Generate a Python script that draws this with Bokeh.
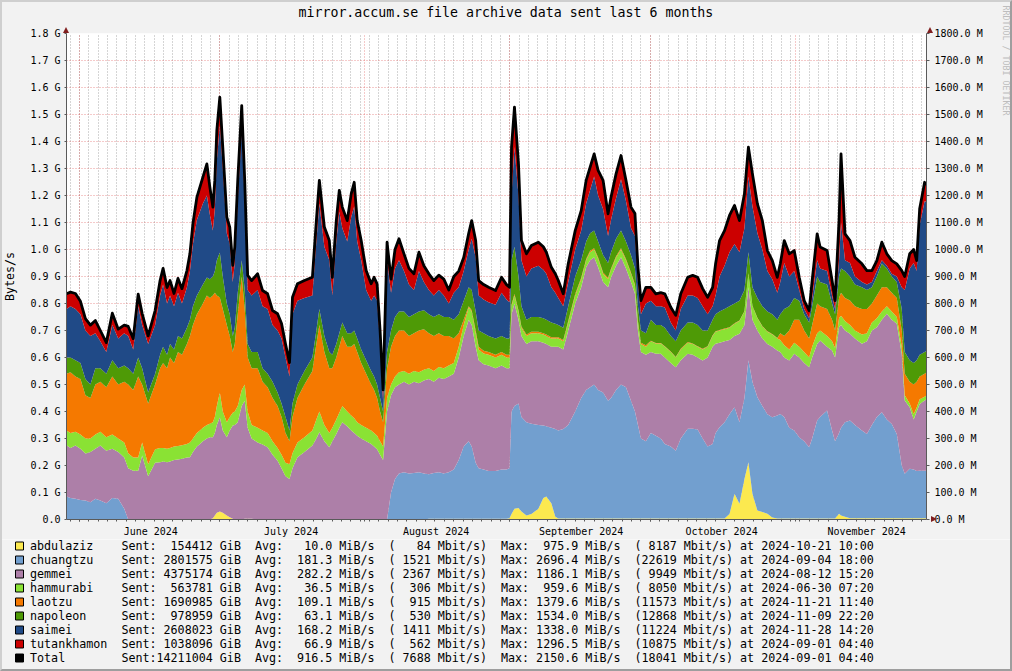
from datetime import datetime, timedelta
from bokeh.plotting import figure
from bokeh.models import (ColumnDataSource, Range1d, FixedTicker, LinearAxis, Title, Plot)
from bokeh.layouts import column
from bokeh.core.properties import value
from bokeh.embed import file_html
from bokeh.resources import INLINE

# ---------------------------------------------------------------- data
START = datetime(2024, 5, 29, 6, 0)      # left edge of the graph
SPAN_DAYS = 183.8                          # "last 6 months"

# sample times, days after START
day = [
    0.0, 0.85, 1.91, 2.98, 4.04, 5.11, 6.17, 7.23, 8.51, 9.79, 11.06, 12.34, 13.19, 14.26, 15.32, 16.17, 17.45,
    18.94, 20.0, 20.64, 21.49, 22.13, 22.98, 23.83, 24.68, 25.74, 26.38, 27.02, 27.87, 28.51, 29.15, 30.0, 30.64,
    31.28, 31.70, 32.13, 32.77, 33.40, 34.26, 34.89, 35.53, 35.96, 36.60, 37.45, 38.09, 38.72, 39.57, 40.85,
    41.91, 42.98, 44.04, 45.11, 45.96, 46.81, 47.66, 48.30, 49.36, 50.85, 52.55, 53.40, 54.04, 55.11, 56.17, 56.81,
    57.66, 58.30, 58.94, 60.0, 60.85, 61.49, 62.13, 62.98, 64.04, 65.11, 65.74, 66.38, 67.02, 67.66, 68.51,
    69.36, 70.21, 71.06, 72.13, 73.19, 74.26, 75.32, 76.38, 77.45, 78.51, 79.57, 80.64, 81.70, 82.77, 83.83, 84.89,
    85.96, 86.60, 87.45, 88.09, 89.15, 90.21, 91.70, 92.98, 94.04, 94.68,
    95.11, 95.74, 96.60, 97.23, 98.30, 99.36, 100.85, 101.91, 102.55, 103.62, 104.47, 105.11, 106.17, 107.23, 108.72,
    110.0, 111.06, 111.91, 112.77, 113.62, 114.68, 115.74, 116.38, 117.45, 118.51, 119.57, 120.64, 121.49, 122.13,
    122.77, 123.83,
    124.89, 125.96, 127.02, 127.87, 129.15, 130.21, 131.28, 132.77, 133.83, 134.89, 135.96, 137.02, 138.09, 138.72,
    139.57, 140.64, 141.70, 142.77, 143.83, 144.89, 145.74, 146.60, 147.66, 148.72, 149.79, 150.85, 151.91, 152.55,
    153.40, 154.47, 155.53,
    156.60, 157.66, 158.72, 159.36, 160.43, 161.06, 162.55, 163.62, 164.26, 165.11, 165.53, 166.38, 167.45, 168.51,
    170.0, 171.06, 172.13, 173.19, 174.26, 175.32, 176.38, 177.45, 178.51, 179.15, 180.21, 181.06, 181.70, 182.34,
    183.40, 183.83,
]

# bytes/s per host, in MiB/s (stacked bottom to top)
abdulaziz = [
    0, 0, 0, 0, 0, 0, 0, 0, 0, 0, 0, 0, 0, 0, 0, 0, 0,
    0, 0, 0, 0, 0, 0, 0, 0, 0, 0, 0, 0, 0, 0, 0, 0, 5, 15, 25, 30, 25, 15, 8, 3, 0, 0, 0, 3, 3, 3, 0,
    0, 0, 0, 0, 0, 0, 0, 0, 0, 0, 0, 0, 0, 0, 0, 0, 0, 0, 0, 0, 0, 0, 0, 0, 0, 0, 0, 0, 0, 0, 0,
    0, 0, 0, 0, 0, 0, 0, 0, 3, 3, 3, 3, 3, 3, 3, 3, 3, 3, 3, 3, 3, 3, 3, 3, 3, 5,
    20, 40, 43, 30, 15, 20, 40, 80, 85, 60, 10, 4, 4, 4, 4, 4, 4, 4, 4, 4, 4, 4, 4, 4, 4, 4, 4, 4, 4, 4, 4,
    4, 4, 4, 4, 4, 4, 4, 4, 4, 4, 4, 4, 4, 4, 4, 4, 20, 95, 58, 150, 212, 95, 33, 28, 21, 7, 4, 4, 4, 4, 4,
    4, 4, 4, 4, 4, 4, 4, 4, 4, 21, 15, 10, 5, 5, 5, 5, 5, 5, 5, 5, 5, 5, 5, 5, 5, 5, 5, 5, 5, 5,
]
chuangtzu = [
    85, 80, 77, 72, 70, 64, 77, 70, 60, 80, 77, 40, 0, 0, 0, 0, 0,
    0, 0, 0, 0, 0, 0, 0, 0, 0, 0, 0, 0, 0, 0, 0, 0, 0, 0, 0, 0, 0, 0, 0, 0, 0, 0, 0, 0, 0, 0, 0,
    0, 0, 0, 0, 0, 0, 0, 0, 0, 0, 0, 0, 0, 0, 0, 0, 0, 0, 0, 0, 0, 0, 0, 0, 0, 0, 0, 0, 0, 0, 0,
    100, 150, 170, 175, 170, 172, 175, 170, 165, 169, 172, 167, 172, 182, 217, 267, 287, 267, 207, 187, 182, 177,
    177, 182, 182, 185,
    380, 380, 387, 350, 345, 335, 310, 268, 260, 280, 325, 326, 331, 346, 396, 446, 476, 486, 496, 476, 466, 436,
    446, 476, 496, 486, 436, 396, 346, 296, 286,
    316, 306, 296, 276, 266, 251, 296, 332, 332, 329, 296, 266, 276, 316, 338, 356, 370, 321, 302, 300, 378, 415,
    420, 392, 369, 372, 381, 387, 376, 336, 326,
    301, 286, 264, 296, 363, 376, 400, 326, 286, 299, 325, 350, 362, 345, 325, 312, 345, 375, 392, 365, 349, 312,
    195, 164, 183, 180, 175, 176, 176, 176,
]
gemmei = [
    190, 185, 197, 190, 174, 186, 185, 204, 195, 182, 173, 190, 190, 181, 181, 237, 160,
    210, 212, 215, 212, 215, 220, 222, 225, 230, 231, 250, 270, 280, 290, 300, 305, 300, 305, 325, 349, 305, 290,
    322, 345, 350, 360, 420, 437, 337, 297, 285,
    278, 268, 240, 218, 190, 160, 150, 190, 231, 250, 274, 300, 323, 290, 268, 290, 317, 340, 360, 345, 330, 320,
    310, 300, 290, 280, 270, 260, 240, 220, 400,
    360, 340, 330, 335, 330, 338, 330, 345, 352, 338, 350, 350, 355, 355, 380, 410, 450, 450, 430, 400, 390, 390,
    380, 385, 375, 370,
    360, 380, 310, 300, 290, 305, 310, 307, 305, 300, 305, 310, 295, 350, 400, 410, 454, 470, 471, 454, 410, 420,
    447, 460, 471, 440, 440, 436, 350, 320, 320,
    300, 304, 314, 320, 310, 309, 290, 278, 274, 267, 289, 330, 360, 331, 313, 300, 275, 264, 328, 270, 270, 230,
    247, 250, 260, 261, 241, 229, 220, 249, 284,
    295, 290, 296, 300, 283, 283, 236, 296, 310, 392, 380, 340, 321, 320, 321, 343, 350, 332, 343, 392, 386, 408,
    414, 272, 228, 185, 220, 247, 260, 264,
]
hammurabi = [
    55, 55, 51, 53, 56, 50, 53, 51, 50, 53, 50, 55, 55, 49, 49, 48, 45,
    50, 53, 50, 50, 50, 50, 50, 50, 50, 54, 50, 50, 50, 50, 50, 50, 55, 60, 70, 91, 70, 55, 50, 47, 50, 60, 60,
    60, 60, 50, 55,
    52, 52, 50, 47, 50, 50, 55, 55, 54, 55, 56, 70, 77, 60, 52, 50, 53, 55, 60, 55, 55, 55, 50, 50, 50, 50, 50,
    50, 50, 50, 50,
    40, 40, 45, 40, 40, 40, 40, 40, 40, 40, 40, 40, 40, 40, 40, 40, 45, 50, 50, 40, 40, 40, 40, 40, 40, 40,
    30, 30, 30, 30, 30, 30, 30, 30, 30, 30, 30, 30, 30, 30, 30, 30, 26, 30, 29, 31, 30, 30, 28, 30, 29, 30, 30,
    30, 30, 30, 30,
    40, 38, 38, 40, 40, 36, 40, 41, 40, 40, 41, 40, 40, 44, 45, 45, 45, 45, 47, 50, 50, 50, 45, 45, 45, 45, 44,
    45, 45, 41, 41,
    40, 40, 36, 40, 40, 37, 40, 34, 35, 33, 35, 35, 32, 30, 34, 30, 30, 33, 30, 28, 30, 25, 26, 19, 14, 20, 15,
    17, 14, 15,
]
laotzu = [
    210, 225, 205, 205, 160, 150, 185, 185, 185, 215, 200, 225, 255, 250, 300, 215, 225,
    240, 295, 315, 298, 335, 310, 348, 335, 370, 395, 420, 440, 450, 460, 480, 465, 470, 460, 410, 352, 380, 360,
    300, 225, 250, 340, 420, 280, 200, 210, 220,
    180, 170, 160, 155, 140, 110, 85, 135, 165, 195, 220, 280, 320, 270, 240, 220, 230, 245, 260, 240, 255, 275,
    260, 230, 200, 170, 160, 140, 110, 90, 110,
    140, 150, 155, 150, 140, 140, 155, 150, 130, 130, 125, 120, 110, 90, 50, 20, 5, 5, 10, 10, 10, 10, 10, 10,
    10, 10,
    5, 5, 5, 5, 5, 5, 5, 5, 5, 5, 5, 5, 5, 5, 5, 5, 5, 5, 5, 5, 5, 5, 5, 5, 5, 5, 5, 4, 5, 5, 5,
    2, 2, 2, 2, 2, 2, 2, 2, 2, 2, 2, 2, 2, 2, 2, 2, 2, 2, 2, 2, 2, 2, 2, 2, 2, 2, 2, 25, 35, 70, 85,
    100, 80, 70, 80, 110, 90, 100, 80, 65, 75, 85, 85, 91, 90, 95, 90, 70, 85, 90, 70, 70, 70, 60, 80, 80, 110,
    95, 85, 85, 85,
]
napoleon = [
    60, 55, 60, 60, 60, 50, 60, 50, 50, 60, 60, 60, 60, 60, 70, 60, 40,
    40, 50, 60, 50, 50, 50, 60, 60, 60, 60, 70, 70, 70, 70, 66, 70, 70, 80, 130, 167, 120, 80, 80, 60, 60, 80,
    60, 70, 50, 60, 60,
    50, 50, 60, 50, 50, 60, 40, 50, 50, 50, 50, 50, 60, 60, 60, 50, 50, 50, 50, 50, 50, 50, 50, 50, 50, 50, 50,
    50, 50, 40, 60,
    60, 70, 70, 70, 70, 70, 70, 70, 70, 70, 70, 70, 70, 70, 70, 70, 70, 75, 70, 60, 65, 60, 60, 60, 60, 60,
    165, 175, 125, 75, 55, 55, 55, 55, 55, 55, 50, 45, 45, 55, 65, 65, 65, 65, 65, 60, 65, 55, 60, 65, 65, 65,
    65, 60, 55, 45, 45,
    78, 66, 66, 68, 58, 58, 68, 73, 78, 78, 68, 58, 58, 63, 68, 73, 78, 73, 73, 78, 78, 68, 73, 73, 73, 73, 68,
    70, 100, 90, 80,
    70, 60, 60, 70, 100, 90, 90, 60, 60, 80, 90, 100, 89, 80, 80, 70, 60, 70, 88, 70, 60, 60, 80, 80, 80, 80, 80,
    80, 80, 80,
]
saimei = [
    180, 190, 190, 180, 180, 180, 130, 100, 80, 130, 110, 120, 120, 90, 190, 160, 180,
    180, 220, 230, 190, 180, 160, 160, 130, 150, 180, 230, 280, 290, 300, 304, 240, 170, 230, 370, 471, 400, 260,
    260, 200, 240, 340, 480, 330, 200, 210, 230,
    230, 240, 210, 230, 240, 220, 200, 330, 310, 270, 230, 330, 390, 330, 340, 220, 380, 450, 350, 340, 430, 460,
    360, 330, 260, 260, 300, 310, 200, 40, 340,
    140, 180, 190, 150, 120, 90, 150, 105, 90, 80, 90, 80, 50, 100, 100, 110, 140, 190, 200, 130, 125, 125, 125,
    160, 145, 135,
    240, 370, 300, 170, 160, 180, 190, 180, 170, 130, 115, 100, 80, 90, 100, 110, 140, 160, 200, 170, 170, 100,
    120, 150, 190, 150, 100, 120, 90, 60, 110,
    70, 70, 70, 75, 50, 40, 80, 100, 100, 100, 90, 60, 50, 70, 130, 160, 200, 220, 180, 230, 280, 300, 240, 210,
    150, 130, 100, 120, 170, 110, 100,
    40, 20, 15, 30, 60, 50, 50, 30, 20, 60, 170, 40, 50, 30, 20, 20, 20, 20, 12, 10, 10, 20, 80, 230, 340, 370,
    330, 480, 560, 550,
]
tutankhamon = [
    56, 52, 57, 48, 44, 40, 47, 40, 35, 44, 35, 30, 35, 40, 45, 43, 30,
    54, 55, 60, 59, 55, 47, 53, 55, 62, 65, 76, 84, 91, 98, 117, 101, 87, 106, 111, 104, 79, 60, 63, 61, 59, 76,
    93, 76, 54, 55, 60,
    58, 56, 54, 62, 56, 50, 51, 63, 63, 65, 67, 77, 86, 73, 73, 67, 77, 79, 77, 77, 86, 89, 77, 73, 72, 63, 67,
    63, 50, 40, 67,
    50, 70, 80, 64, 60, 60, 70, 60, 60, 55, 55, 60, 50, 60, 60, 50, 60, 67, 63, 55, 55, 55, 53, 57, 55, 55,
    179, 147, 117, 73, 84, 85, 87, 85, 80, 74, 70, 65, 46, 67, 70, 74, 86, 85, 84, 93, 106, 82, 84, 90, 88, 76,
    77, 83, 54, 51, 60,
    50, 46, 50, 51, 56, 56, 56, 67, 74, 77, 65, 63, 70, 117, 133, 130, 136, 143, 117, 126, 109, 120, 109, 107,
    76, 69, 57, 67, 83, 84, 76,
    47, 31, 29, 65, 98, 79, 76, 55, 31, 147, 254, 98, 83, 71, 67, 52, 42, 39, 67, 44, 49, 47, 62, 50, 54, 50,
    39, 61, 69, 65,
]

series_names = ["abdulaziz", "chuangtzu", "gemmei", "hammurabi", "laotzu", "napoleon", "saimei", "tutankhamon"]
series_values = [abdulaziz, chuangtzu, gemmei, hammurabi, laotzu, napoleon, saimei, tutankhamon]
series_colors = ["#FCE94F", "#729FCF", "#AD7FA8", "#8AE234", "#F57900", "#4E9A06", "#204A87", "#CC0000"]

# legend statistics
legend_names = series_names + ["Total"]
legend_colors = series_colors + ["#000000"]
sent_gib = [154412, 2801575, 4375174, 563781, 1690985, 978959, 2608023, 1038096, 14211004]
avg_mib = [10.0, 181.3, 282.2, 36.5, 109.1, 63.1, 168.2, 66.9, 916.5]
avg_mbit = [84, 1521, 2367, 306, 915, 530, 1411, 562, 7688]
max_mib = [975.9, 2696.4, 1186.1, 959.6, 1379.6, 1534.0, 1338.0, 1296.5, 2150.6]
max_mbit = [8187, 22619, 9949, 8050, 11573, 12868, 11224, 10875, 18041]
max_at = ["2024-10-21 10:00", "2024-09-04 18:00", "2024-08-12 15:20", "2024-06-30 07:20", "2024-11-21 11:40",
          "2024-11-09 22:20", "2024-11-28 14:20", "2024-09-01 04:40", "2024-09-01 04:40"]

y_ticks = [0, 100, 200, 300, 400, 500, 600, 700, 800, 900, 1000, 1100, 1200, 1300, 1400, 1500, 1600, 1700, 1800]
TITLE = "mirror.accum.se file archive data sent last 6 months"
WATERMARK = "RRDTOOL / TOBI OETIKER"

# ---------------------------------------------------------------- style
FONT = "DejaVu Sans Mono"
BACK = "#F2F2F2"
AXIS = "#5A5A5A"
MGRID = "#DE4F4F"
GRID = "#8F8F8F"
ARROW = "#801F1F"

EPOCH = datetime(1970, 1, 1)


def ms(dt):
    return (dt - EPOCH).total_seconds() * 1000.0


DAY_MS = 86400000.0
start_ms = ms(START)
end_ms = start_ms + SPAN_DAYS * DAY_MS

t_ms = [start_ms + d * DAY_MS for d in day]
data = {"t": t_ms}
for n, v in zip(series_names, series_values):
    data[n] = v
data["total"] = [sum(col) for col in zip(*series_values)]
src = ColumnDataSource(data)

month_starts = [datetime(2024, m, 1) for m in range(6, 12)]
month_ms = [ms(d) for d in month_starts]
label_ms = [ms(d + timedelta(days=15.25)) for d in month_starts]
month_labels = {lm: d.strftime("%B %Y") for lm, d in zip(label_ms, month_starts)}
minor_ms = []
d = datetime(2024, 5, 30)
while ms(d) <= end_ms:
    if ms(d) >= start_ms:
        minor_ms.append(ms(d))
    d += timedelta(days=2)

left_labels = {v: ("0.0" if v == 0 else f"{v / 1000:.1f} G") for v in y_ticks}
right_labels = {v: f"{v:.1f} M" for v in y_ticks}

# do not let the layout align the two figures' frames
FA = {"frame_align": False} if "frame_align" in Plot.properties() else {}

# ---------------------------------------------------------------- main figure
W = 1012
H_MAIN, H_LEG = 539, 132
FRAME_L, FRAME_R, FRAME_T, FRAME_B = 66, 930, 33, 519
p = figure(width=W, height=H_MAIN, x_axis_type="datetime", title=None,
           x_range=Range1d(start_ms, end_ms), y_range=Range1d(0, 1800),
           output_backend="svg", toolbar_location=None,
           min_border_left=FRAME_L, min_border_right=W - FRAME_R,
           min_border_top=FRAME_T, min_border_bottom=H_MAIN - FRAME_B,
           background_fill_color="#FFFFFF", border_fill_color=BACK,
           outline_line_color=None, **FA)

# axis arrow heads (rrdtool style), drawn over the canvas margins
p.stylesheets = [
    ":host { position: relative; }"
    f":host::before {{ content: ''; position: absolute; z-index: 10; left: {FRAME_L - 3}px; top: {FRAME_T - 6}px;"
    f" width: 0; height: 0; border-left: 3px solid transparent; border-right: 3px solid transparent;"
    f" border-bottom: 6px solid {ARROW}; pointer-events: none; }}"
    f":host::after {{ content: ''; position: absolute; z-index: 10; left: {FRAME_R - 3}px; top: {FRAME_T - 6}px;"
    f" width: 0; height: 0; border-left: 3px solid transparent; border-right: 3px solid transparent;"
    f" border-bottom: 6px solid {ARROW}; pointer-events: none; }}"
]

# title: a spacer title next to the frame pushes the real one up
p.add_layout(Title(text=" ", text_font_size="1px", standoff=11), "above")
p.add_layout(Title(text=TITLE, align="left", offset=232, standoff=0, text_font=FONT,
                   text_font_size="13.25px", text_font_style="normal", text_color="#000000"), "above")

# grids
p.xgrid.ticker = FixedTicker(ticks=month_ms, minor_ticks=minor_ms)
p.xgrid.grid_line_color = MGRID
p.xgrid.grid_line_alpha = 0.6
p.xgrid.grid_line_dash = "1 2"
p.xgrid.minor_grid_line_color = GRID
p.xgrid.minor_grid_line_alpha = 0.75
p.xgrid.minor_grid_line_dash = "1 2"
p.ygrid.ticker = FixedTicker(ticks=y_ticks)
p.ygrid.grid_line_color = MGRID
p.ygrid.grid_line_alpha = 0.6
p.ygrid.grid_line_dash = "1 2"

# x axis
xa = p.xaxis[0]
xa.ticker = FixedTicker(ticks=label_ms, minor_ticks=minor_ms + month_ms)
xa.major_label_overrides = month_labels
xa.major_tick_out = 0
xa.major_tick_in = 0
xa.minor_tick_out = 2
xa.minor_tick_in = 0
xa.minor_tick_line_color = AXIS
xa.axis_line_color = AXIS
xa.major_label_standoff = 4
xa.major_label_text_font = FONT
xa.major_label_text_font_size = "10px"
xa.major_label_text_color = "#000000"

# left y axis
ya = p.yaxis[0]
ya.ticker = FixedTicker(ticks=y_ticks)
ya.major_label_overrides = left_labels
ya.major_tick_out = 2
ya.major_tick_in = 0
ya.minor_tick_out = 0
ya.minor_tick_in = 0
ya.major_tick_line_color = AXIS
ya.axis_line_color = AXIS
ya.major_label_standoff = 4
ya.major_label_text_font = FONT
ya.major_label_text_font_size = "10px"
ya.major_label_text_color = "#000000"
ya.axis_label = "Bytes/s"
ya.axis_label_text_font = FONT
ya.axis_label_text_font_size = "11.7px"
ya.axis_label_text_font_style = "normal"
ya.axis_label_text_color = "#000000"
ya.axis_label_standoff = 10

# right y axis (blank axis label only reserves room before the watermark)
ra = LinearAxis(ticker=FixedTicker(ticks=y_ticks), major_label_overrides=right_labels,
                major_tick_out=3, major_tick_in=0, minor_tick_out=0, minor_tick_in=0,
                major_tick_line_color=AXIS, axis_line_color=AXIS, major_label_standoff=5,
                major_label_text_font=FONT, major_label_text_font_size="10px",
                major_label_text_color="#000000",
                axis_label=" ", axis_label_text_font_size="10px", axis_label_standoff=1)
p.add_layout(ra, "right")
p.add_layout(Title(text=WATERMARK, align="left", offset=-28, standoff=0, text_font=FONT,
                   text_font_size="8.3px", text_font_style="normal", text_color="#BDBDBD"), "right")

# stacked areas + total line
p.varea_stack(stackers=series_names, x="t", color=series_colors, source=src)
p.line(x="t", y="total", source=src, line_color="#000000", line_width=2.8, line_join="round")

# ---------------------------------------------------------------- legend figure (pixel coordinates)
q = figure(width=W, height=H_LEG, x_range=Range1d(0, W), y_range=Range1d(H_MAIN + H_LEG, H_MAIN),
           output_backend="svg", toolbar_location=None, min_border=0,
           x_axis_location=None, y_axis_location=None, title=None,
           background_fill_color=BACK, border_fill_color=BACK, outline_line_color=None, **FA)
q.grid.visible = False

CW = 7.03
X0 = 29.5
row_y = [545 + 14 * i for i in range(len(legend_names))]


def cx(col):
    return X0 + col * CW


q.rect(x=[19] * len(row_y), y=[y + 0.5 for y in row_y], width=8, height=8,
       fill_color=legend_colors, line_color="#000000", line_width=1)

lx, ly, lt, rx, ry, rt = [], [], [], [], [], []
for i, nm in enumerate(legend_names):
    y = row_y[i]
    for col, txt in [(0, nm), (13, "Sent:"), (27, "GiB"), (32, "Avg:"), (44, "MiB/s"), (51, "("),
                     (58, "Mbit/s)"), (67, "Max:"), (79, "MiB/s"), (86, "("),
                     (93, f"Mbit/s) at {max_at[i]}")]:
        lx.append(cx(col)); ly.append(y); lt.append(txt)
    for col, txt in [(26, str(sent_gib[i])), (43, f"{avg_mib[i]:.1f}"), (57, str(avg_mbit[i])),
                     (78, f"{max_mib[i]:.1f}"), (92, str(max_mbit[i]))]:
        rx.append(cx(col)); ry.append(y); rt.append(txt)

q.text(x=lx, y=ly, text=lt, text_align="left", text_baseline="middle",
       text_font=value(FONT), text_font_size="11.7px", text_color="#000000")
q.text(x=rx, y=ry, text=rt, text_align="right", text_baseline="middle",
       text_font=value(FONT), text_font_size="11.7px", text_color="#000000")

# outer 3-D frame of the image plus the x-axis arrow head
OUTER = (":host { position: relative; }"
         f":host::before {{ content: ''; position: absolute; z-index: 10; left: {FRAME_R + 1}px;"
         f" top: {FRAME_B - 3}px; width: 0; height: 0; border-top: 3px solid transparent;"
         f" border-bottom: 3px solid transparent; border-left: 6px solid {ARROW}; pointer-events: none; }}"
         ":host::after { content: ''; position: absolute; z-index: 11; left: 0; top: 0; right: 0; bottom: 0;"
         " box-sizing: border-box; border-style: solid; border-width: 2px;"
         " border-color: #CFCFCF #9E9E9E #9E9E9E #CFCFCF; pointer-events: none; }")
layout = column(p, q, stylesheets=[OUTER])
open("out.html", "w").write(file_html(layout, INLINE, title="mirror.accum.se"))
